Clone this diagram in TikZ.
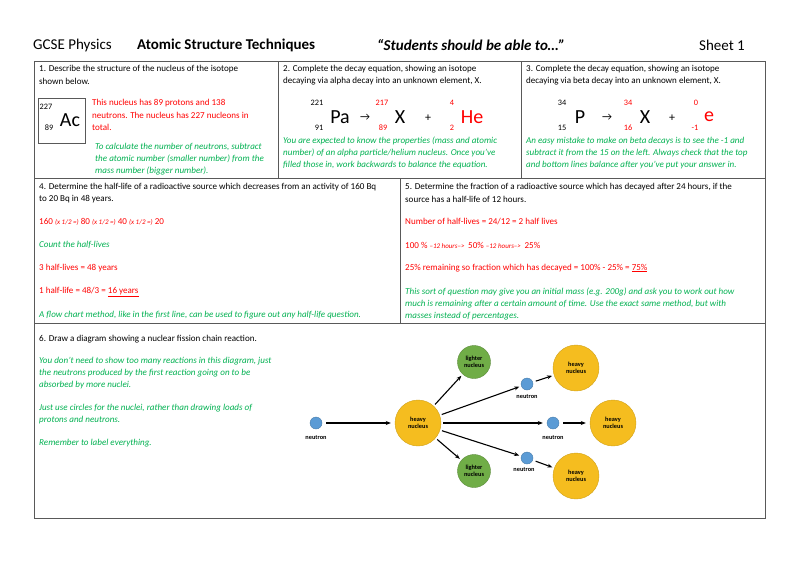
\documentclass[tikz,border=0pt]{standalone}
\usepackage{fontspec}
\setmainfont{Carlito}
\usetikzlibrary{arrows.meta}
\definecolor{rd}{HTML}{FF0000}
\definecolor{gn}{HTML}{00B050}
\definecolor{yel}{HTML}{F5BD1F}
\definecolor{lgr}{HTML}{70AD47}
\definecolor{blu}{HTML}{5B9BD5}
\begin{document}
\begin{tikzpicture}[x=1pt,y=-1pt,
 t/.style={anchor=west,inner sep=0pt,font=\fontsize{9.05}{10}\selectfont},
 r/.style={t,text=rd},
 g/.style={t,text=gn,font=\fontsize{9.05}{10}\selectfont\itshape},
 nm/.style={inner sep=0pt,font=\fontsize{8.3}{9}\selectfont},
 big/.style={inner sep=0pt,font=\fontsize{20}{21}\selectfont},
 heavy/.style={circle,fill=yel,draw=yel!85!black,minimum size=46pt,inner sep=0pt,align=center,font=\fontsize{6.3}{7.5}\selectfont\bfseries},
 light/.style={circle,fill=lgr,draw=lgr!80!black,minimum size=33pt,inner sep=0pt,align=center,font=\fontsize{6.3}{7.5}\selectfont\bfseries},
 neu/.style={circle,fill=blu,draw=blu!80!black,minimum size=12pt,inner sep=0pt},
 nl/.style={inner sep=0pt,font=\fontsize{6.3}{7.5}\selectfont\bfseries},
 ar/.style={-{Stealth[length=5pt,width=4pt]},line width=1.1pt,shorten <=2pt,shorten >=2pt}]
\useasboundingbox (0,0) rectangle (799,565);
% header
\node[t,font=\fontsize{15}{16}\selectfont] (h1) at (33,45) {GCSE Physics};
\node[t,font=\fontsize{15}{16}\selectfont\bfseries] (h2) at (137,45) {Atomic Structure Techniques};
\node[t,font=\fontsize{15}{16}\selectfont\bfseries\itshape] (h3) at (377,45) {“Students should be able to…”};
\node[t,font=\fontsize{15}{16}\selectfont] (h4) at (699,45) {Sheet 1};
% grid
\draw[line width=0.6pt,gray!70!black] (34,61) rectangle (765,518);
\draw[line width=0.6pt,gray!70!black] (34,178) -- (765,178) (34,323) -- (765,323)
 (278,61) -- (278,178) (521,61) -- (521,178) (400,178) -- (400,323);
% box 1
\node[t] (b1a) at (39,69) {1. Describe the structure of the nucleus of the isotope};
\node[t] (b1b) at (39,81) {shown below.};
\draw[gray!70!black] (38,98) rectangle (85,143);
\node[nm] (ac1) at (46,107) {227};
\node[big] (ac2) at (70,120) {Ac};
\node[nm] (ac3) at (49,128) {89};
\node[r] (r1) at (92,103) {This nucleus has 89 protons and 138};
\node[r] (r2) at (92,115) {neutrons. The nucleus has 227 nucleons in};
\node[r] (r3) at (92,127) {total.};
\node[g] (g1) at (95,147) {To calculate the number of neutrons, subtract};
\node[g] (g2) at (95,159) {the atomic number (smaller number) from the};
\node[g] (g3) at (95,171) {mass number (bigger number).};
% box 2
\node[t] (b2a) at (283,69) {2. Complete the decay equation, showing an isotope};
\node[t] (b2b) at (283,81) {decaying via alpha decay into an unknown element, X.};
\node[nm] (e1) at (317,103) {221};
\node[big] (e2) at (340,117) {Pa};
\node[nm,font=\fontsize{11}{12}\selectfont] (e3) at (365,117) {→};
\node[nm] (e4) at (319,128) {91};
\node[nm,text=rd] (e5) at (382,103) {217};
\node[big] (e6) at (400,117) {X};
\node[nm,text=rd] (e7) at (383,128) {89};
\node[nm,font=\fontsize{12}{13}\selectfont] (e8) at (428,118) {+};
\node[nm,text=rd] (e9) at (452,103) {4};
\node[big,text=rd] (e10) at (472,117) {He};
\node[nm,text=rd] (e11) at (452,128) {2};
\node[g] (g4) at (283,141) {You are expected to know the properties (mass and atomic};
\node[g] (g5) at (283,153) {number) of an alpha particle/helium nucleus. Once you've};
\node[g] (g6) at (283,165) {filled those in, work backwards to balance the equation.};
% box 3
\node[t] (b3a) at (526,69) {3. Complete the decay equation, showing an isotope};
\node[t] (b3b) at (526,81) {decaying via beta decay into an unknown element, X.};
\node[nm] (f1) at (562,103) {34};
\node[big] (f2) at (580,117) {P};
\node[nm,font=\fontsize{11}{12}\selectfont] (f3) at (607,117) {→};
\node[nm] (f4) at (562,128) {15};
\node[nm,text=rd] (f5) at (628,103) {34};
\node[big] (f6) at (645,117) {X};
\node[nm,text=rd] (f7) at (628,128) {16};
\node[nm,font=\fontsize{12}{13}\selectfont] (f8) at (672,118) {+};
\node[nm,text=rd] (f9) at (696,103) {0};
\node[big,text=rd] (f10) at (709,117) {e};
\node[nm,text=rd] (f11) at (695,128) {-1};
\node[g] (g7) at (526,141) {An easy mistake to make on beta decays is to see the -1 and};
\node[g] (g8) at (526,153) {subtract it from the 15 on the left. Always check that the top};
\node[g] (g9) at (526,165) {and bottom lines balance after you've put your answer in.};
% box 4
\node[t] (b4a) at (39,187) {4. Determine the half-life of a radioactive source which decreases from an activity of 160 Bq};
\node[t] (b4b) at (39,199) {to 20 Bq in 48 years.};
\node[r] (r4) at (39,222) {160 {\fontsize{7}{8}\selectfont\itshape (x 1/2 =)} 80 {\fontsize{7}{8}\selectfont\itshape (x 1/2 =)} 40 {\fontsize{7}{8}\selectfont\itshape (x 1/2 =)} 20};
\node[g] (g10) at (39,245) {Count the half-lives};
\node[r] (r5) at (39,268) {3 half-lives = 48 years};
\node[r] (r6) at (39,292) {1 half-life = 48/3 = \underline{16 years}};
\node[g] (g11) at (39,315) {A flow chart method, like in the first line, can be  used to figure out any half-life question.};
% box 5
\node[t] (b5a) at (405,187) {5. Determine the fraction of a radioactive source which has decayed after 24 hours, if the};
\node[t] (b5b) at (405,199) {source has a half-life of 12 hours.};
\node[r] (r7) at (405,222) {Number of half-lives = 24/12 = 2 half lives};
\node[r] (r8) at (405,245) {100 \% {\fontsize{7}{8}\selectfont\itshape --12 hours--{}> } 50\% {\fontsize{7}{8}\selectfont\itshape --12 hours--{}> } 25\%};
\node[r] (r9) at (405,268) {25\% remaining so fraction which has decayed = 100\% - 25\% = \underline{75\%}};
\node[g] (g12) at (405,292) {This sort of question may give you an initial mass (e.g. 200g) and ask you to work out how};
\node[g] (g13) at (405,304) {much is remaining after a certain amount of time. Use the exact same method, but with};
\node[g] (g14) at (405,316) {masses instead of percentages.};
% box 6
\node[t] (b6) at (39,339) {6. Draw a diagram showing a nuclear fission chain reaction.};
\node[g] (g15) at (39,361) {You don't need to show too many reactions in this diagram, just};
\node[g] (g16) at (39,373) {the neutrons produced by the first reaction going on to be};
\node[g] (g17) at (39,385) {absorbed by more nuclei.};
\node[g] (g18) at (39,408) {Just use circles for the nuclei, rather than drawing loads of};
\node[g] (g19) at (39,420) {protons and neutrons.};
\node[g] (g20) at (39,443) {Remember to label everything.};
% diagram
\node[neu] (n0) at (316,423) {};
\node[nl] at (316,438) {neutron};
\node[heavy] (H0) at (418,423) {heavy\\nucleus};
\node[light] (L1) at (474,362) {lighter\\nucleus};
\node[light] (L2) at (474,471) {lighter\\nucleus};
\node[neu] (n1) at (527,384) {};
\node[nl] at (527,397) {neutron};
\node[neu] (n2) at (553,423) {};
\node[nl] at (553,438) {neutron};
\node[neu] (n3) at (527,458) {};
\node[nl] at (524,470) {neutron};
\node[heavy] (H1) at (576,368) {heavy\\nucleus};
\node[heavy] (H2) at (613,423) {heavy\\nucleus};
\node[heavy] (H3) at (576,476) {heavy\\nucleus};
\draw[ar,shorten <=4pt,shorten >=4pt] (n0) -- (H0);
\draw[ar] (H0) -- (L1);
\draw[ar] (H0) -- (L2);
\draw[ar] (H0) -- (n1);
\draw[ar,shorten >=4pt] (H0) -- (n2);
\draw[ar] (H0) -- (n3);
\draw[ar,shorten <=3pt] (n1) -- (H1);
\draw[ar,shorten <=4pt,shorten >=4pt] (n2) -- (H2);
\draw[ar,shorten <=3pt] (n3) -- (H3);
\end{tikzpicture}
\end{document}
